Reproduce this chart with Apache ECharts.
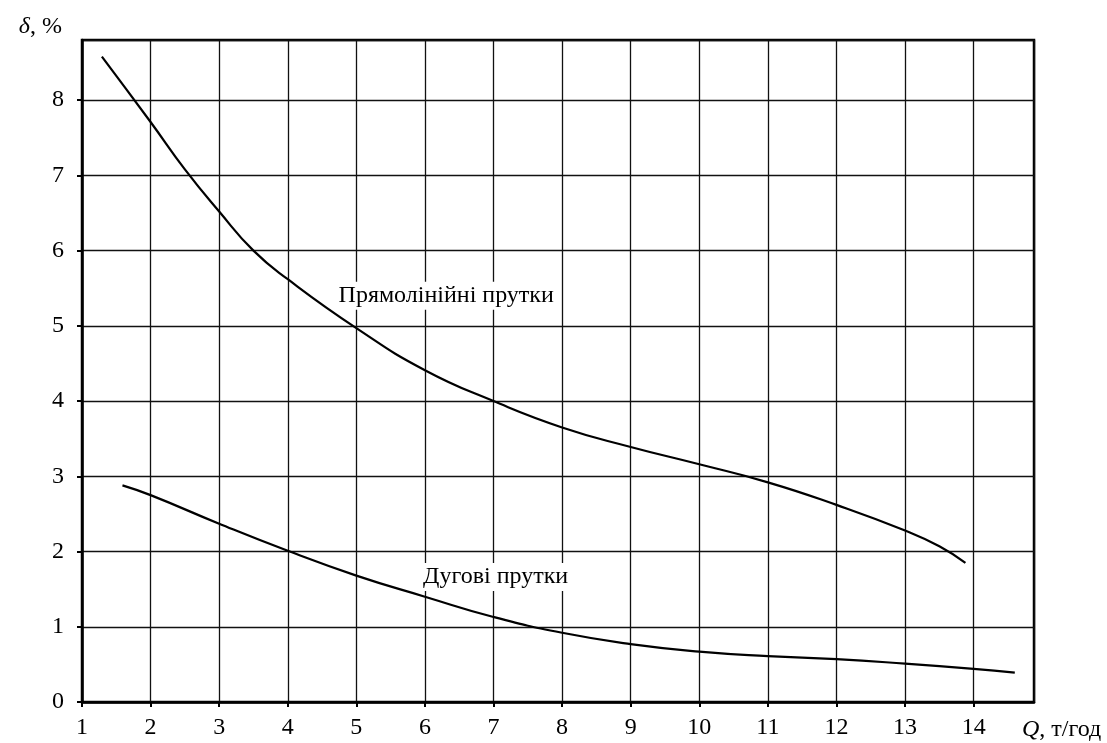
<!DOCTYPE html>
<html>
<head>
<meta charset="utf-8">
<script src="https://cdn.jsdelivr.net/npm/echarts@6/dist/echarts.min.js"></script>
<style>
html,body{margin:0;padding:0;background:#fff;}
#chart{width:1107px;height:743px;}
</style>
</head>
<body>
<div id="chart"></div>
<script>
// Upper curve: Прямолінійні прутки (Q, δ)
var straightQ = [1.29, 2.0, 2.5, 3.0, 3.5, 4.0, 5.0, 6.0, 7.0, 8.0, 9.0, 10.0, 11.0, 12.0, 13.0, 13.5, 13.88];
var straightD = [8.58, 7.71, 7.08, 6.52, 6.0, 5.62, 4.97, 4.41, 4.0, 3.65, 3.39, 3.16, 2.92, 2.62, 2.28, 2.07, 1.85];
// Lower curve: Дугові прутки (Q, δ)
var arcQ = [1.59, 2.0, 3.0, 4.0, 5.0, 6.0, 7.0, 8.0, 9.0, 10.0, 11.0, 12.0, 13.0, 14.0, 14.6];
var arcD = [2.88, 2.75, 2.37, 2.01, 1.68, 1.40, 1.13, 0.92, 0.77, 0.67, 0.61, 0.57, 0.51, 0.44, 0.39];
// Curve captions and their anchor points (Q, δ)
var captionTexts = ['Прямолінійні прутки', 'Дугові прутки'];
var captionQ = [6.31, 7.03];
var captionD = [5.4, 1.66];

var FONT = "'Liberation Serif', 'Times New Roman', serif";
var FS = 24;
function pairs(xs, ys){ return xs.map(function(x,i){ return [x, ys[i]]; }); }

var chart = echarts.init(document.getElementById('chart'), null, {renderer:'canvas'});
var option = {
  backgroundColor: '#fff',
  animation: false,
  grid: { left: 82, right: 73, top: 40, bottom: 41, show: true, borderColor: '#000', borderWidth: 2.5, backgroundColor: 'transparent' },
  xAxis: {
    type: 'value', min: 1, max: 14.88, interval: 1,
    name: '{q|Q}, т/год', nameLocation: 'end', nameGap: -12,
    nameTextStyle: { fontFamily: FONT, fontSize: FS, color: '#000', align: 'left', verticalAlign: 'top', padding: [16,0,0,0],
      rich: { q: { fontFamily: FONT, fontSize: FS, fontStyle: 'italic', color: '#000' } } },
    axisLine: { show: true, onZero: false, lineStyle: { color: '#000', width: 2.5 } },
    axisTick: { show: true, inside: false, length: 5, lineStyle: { color: '#000', width: 2 } },
    axisLabel: { showMaxLabel: false, margin: 14, fontFamily: FONT, fontSize: FS, color: '#000' },
    splitLine: { show: true, lineStyle: { color: '#111', width: 1.3 } }
  },
  yAxis: {
    type: 'value', min: 0, max: 8.8, interval: 1,
    name: '{d|δ}, %', nameLocation: 'end', nameGap: 13,
    nameTextStyle: { fontFamily: FONT, fontSize: FS, color: '#000', align: 'right', verticalAlign: 'middle', padding: [0,20,0,0],
      rich: { d: { fontFamily: FONT, fontSize: FS, fontStyle: 'italic', color: '#000' } } },
    axisLine: { show: true, onZero: false, lineStyle: { color: '#000', width: 2.5 } },
    axisTick: { show: true, inside: false, length: 5, lineStyle: { color: '#000', width: 2 } },
    axisLabel: { showMaxLabel: false, margin: 18, fontFamily: FONT, fontSize: FS, color: '#000' },
    splitLine: { show: true, lineStyle: { color: '#111', width: 1.3 } }
  },
  series: [
    {
      name: captionTexts[0], type: 'line', data: pairs(straightQ, straightD), smooth: 0.5,
      symbol: 'none', lineStyle: { color: '#000', width: 2.2 }, z: 3
    },
    {
      name: captionTexts[1], type: 'line', data: pairs(arcQ, arcD), smooth: 0.5,
      symbol: 'none', lineStyle: { color: '#000', width: 2.2 }, z: 3
    },
    {
      type: 'scatter', symbolSize: 0, z: 5, silent: true,
      itemStyle: { opacity: 1 },
      data: captionTexts.map(function(t,i){ return { value: [captionQ[i], captionD[i]], name: t }; }),
      label: { show: true, position: 'inside', formatter: '{b}', fontFamily: FONT, fontSize: FS, color: '#000', opacity: 1,
        backgroundColor: '#fff', padding: [2,2,2,2] }
    }
  ]
};
chart.setOption(option);
</script>
</body>
</html>
